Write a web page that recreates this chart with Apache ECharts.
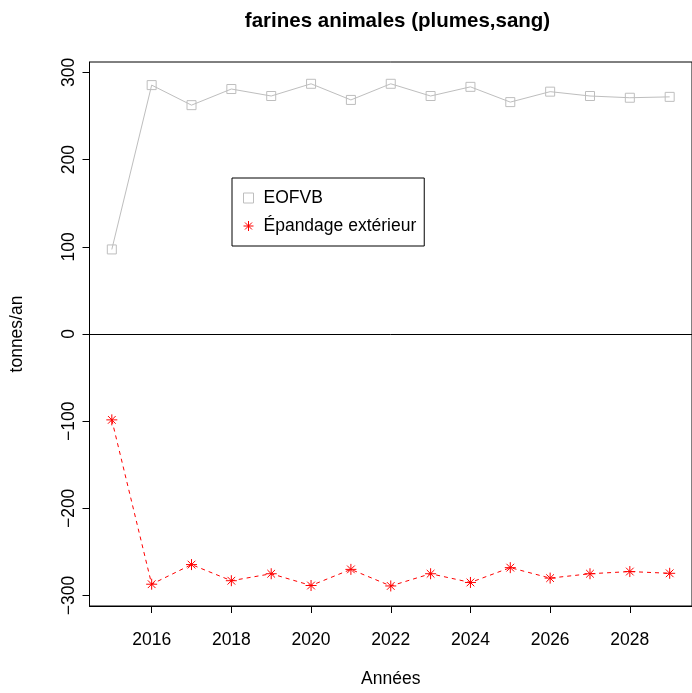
<!DOCTYPE html>
<html>
<head>
<meta charset="utf-8">
<script src="https://cdn.jsdelivr.net/npm/echarts@6/dist/echarts.min.js"></script>
<style>
html,body{margin:0;padding:0;background:#fff;}
#chart{width:692px;height:693px;}
</style>
</head>
<body>
<div id="chart"></div>
<script>
const years = [2015,2016,2017,2018,2019,2020,2021,2022,2023,2024,2025,2026,2027,2028,2029];
const eofvb = [97,285.5,262.5,281,273,287,268.5,287,273,283.5,266,278,273,271,272];
const epandage = [-98.5,-287,-264.5,-283,-275,-288.5,-270,-289,-275,-285,-268,-280,-275,-272.5,-274.5];
const xTicks = [2016,2018,2020,2022,2024,2026,2028];
const yTicks = [-300,-200,-100,0,100,200,300];
const seriesNames = ['EOFVB','Épandage extérieur'];
const titleText = 'farines animales (plumes,sang)';
const xName = 'Années';
const yName = 'tonnes/an';

const FONT = '"Liberation Sans", Arial, Helvetica, sans-serif';
const STAR = 'path://M5,0L5,10M0,5L10,5M1.5,1.5L8.5,8.5M1.5,8.5L8.5,1.5';

const chart = echarts.init(document.getElementById('chart'), null, {renderer:'canvas'});
chart.setOption({
  animation:false,
  backgroundColor:'#fff',
  title:{
    text:titleText, left:392.5, top:6, textAlign:'center',
    textStyle:{fontFamily:FONT, fontSize:20.5, fontWeight:'bold', color:'#000'}
  },
  legend:{
    orient:'vertical', left:232, top:178,
    padding:[11,8,11,11],
    borderColor:'#000', borderWidth:1,
    itemWidth:10, itemHeight:10, itemGap:10,
    textStyle:{fontFamily:FONT, fontSize:17.5, color:'#000', padding:[0,0,0,5]},
    data:[
      {name:seriesNames[0], icon:'rect', itemStyle:{color:'transparent', borderColor:'#bebebe', borderWidth:1}},
      {name:seriesNames[1], icon:STAR, itemStyle:{color:'red', borderColor:'red', borderWidth:1}}
    ]
  },
  grid:{
    left:89.5, right:-5, top:62, bottom:86,
    show:true, borderColor:'#000', borderWidth:1, backgroundColor:'transparent'
  },
  xAxis:{
    type:'value', min:2014.44, max:2029.56, position:'bottom',
    name:xName, nameLocation:'middle', nameGap:64,
    nameTextStyle:{fontFamily:FONT, fontSize:17.5, color:'#000'},
    axisLine:{show:true, onZero:false, lineStyle:{color:'#000', width:1}},
    splitLine:{show:false},
    axisTick:{show:true, inside:false, length:7, lineStyle:{color:'#000'}, customValues:xTicks},
    axisLabel:{fontFamily:FONT, fontSize:17.5, color:'#000', margin:25, customValues:xTicks,
      formatter:v=>String(v)}
  },
  yAxis:{
    type:'value', min:-312, max:312, position:'left',
    name:yName, nameLocation:'middle', nameGap:63, nameRotate:90,
    nameTextStyle:{fontFamily:FONT, fontSize:17.5, color:'#000'},
    axisLine:{show:true, onZero:false, lineStyle:{color:'#000', width:1}},
    splitLine:{show:false},
    axisTick:{show:true, inside:false, length:7, lineStyle:{color:'#000'}, customValues:yTicks},
    axisLabel:{fontFamily:FONT, fontSize:17.5, color:'#000', margin:11, rotate:90, customValues:yTicks,
      formatter:v=>(v<0?'\u2212'+Math.abs(v):String(v))}
  },
  series:[
    {
      name:seriesNames[0], type:'line',
      data:years.map((y,i)=>[y,eofvb[i]]),
      symbol:'rect', symbolSize:9,
      lineStyle:{color:'#bebebe', width:1},
      itemStyle:{color:'transparent', borderColor:'#bebebe', borderWidth:1},
      emphasis:{disabled:true},
      markLine:{
        silent:true, symbol:['none','none'],
        label:{show:false},
        lineStyle:{color:'#000', width:1, type:'solid'},
        data:[{yAxis:0}]
      }
    },
    {
      name:seriesNames[1], type:'line',
      data:years.map((y,i)=>[y,epandage[i]]),
      symbol:STAR, symbolSize:11,
      lineStyle:{color:'red', width:1, type:[4,4]},
      itemStyle:{color:'red', borderColor:'red', borderWidth:1},
      emphasis:{disabled:true}
    }
  ]
});
</script>
</body>
</html>
